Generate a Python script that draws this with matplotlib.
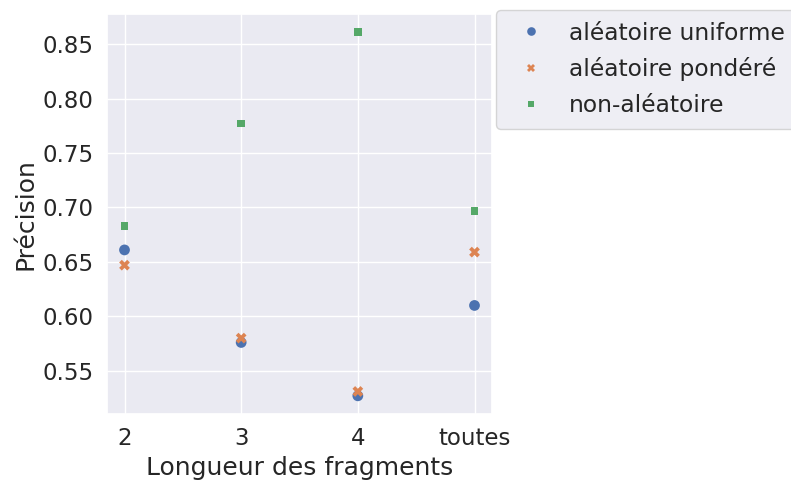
import matplotlib
matplotlib.use("Agg")
import matplotlib.pyplot as plt
import seaborn as sns
import pandas as pd

categories = ["2", "3", "4", "toutes"]
uniforme = [0.661, 0.576, 0.527, 0.610]
pondere = [0.647, 0.580, 0.531, 0.659]
non_aleatoire = [0.683, 0.777, 0.861, 0.697]
series_names = ["aléatoire uniforme", "aléatoire pondéré", "non-aléatoire"]

rows = []
for name, vals in zip(series_names, [uniforme, pondere, non_aleatoire]):
    for c, v in zip(categories, vals):
        rows.append({"Longueur des fragments": c, "Précision": v, "méthode": name})
df = pd.DataFrame(rows)

sns.set_theme(style="darkgrid", context="notebook", font_scale=1.5)
plt.rcParams['font.family'] = ['DejaVu Sans']

fig = plt.figure(figsize=(7.91, 4.82), dpi=100)
ax = fig.add_axes([107/791, (482-414)/482, (492-107)/791, (414-14)/482])
sns.scatterplot(data=df, x="Longueur des fragments", y="Précision", hue="méthode",
                style="méthode", ax=ax, s=60, linewidth=0)
ax.legend(loc="upper left", bbox_to_anchor=(1.01, 1.01), title=None, borderaxespad=0,
          fontsize=16.8, markerscale=0.8, labelspacing=0.55, borderpad=0.5,
          handletextpad=0.65)
fig.savefig("out.png", dpi=100)
